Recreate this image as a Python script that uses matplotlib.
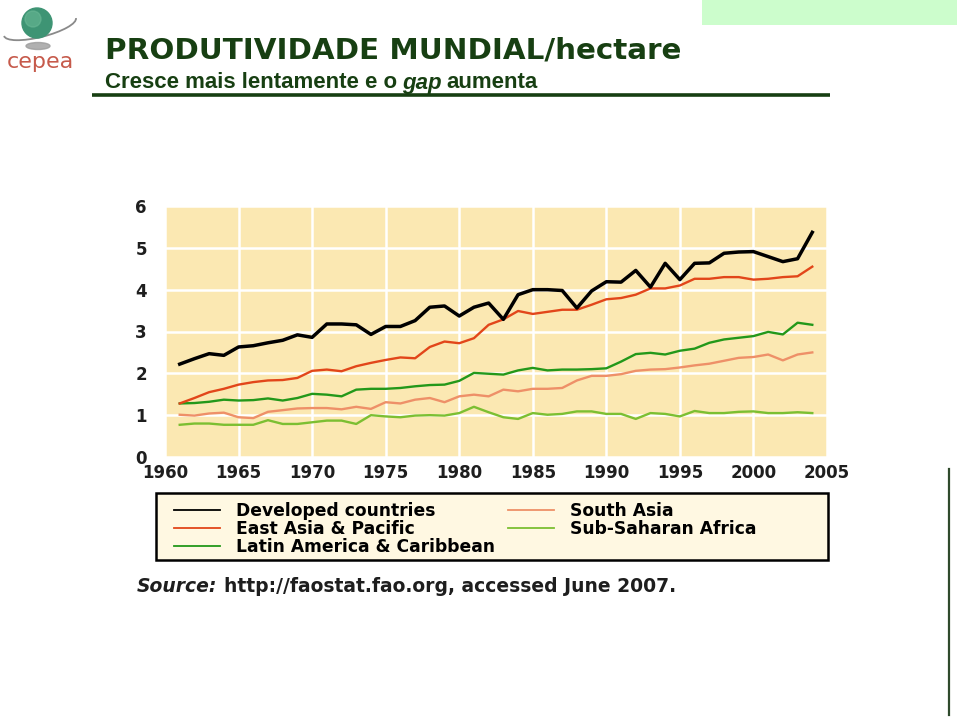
#!/usr/bin/env python3
# -*- coding: utf-8 -*-
"""
Produtividade mundial por hectare (FAOSTAT) - recriação do slide CEPEA
"""

import matplotlib
matplotlib.use('Agg')
import matplotlib.pyplot as plt
from matplotlib.patches import Circle, Ellipse, Arc, Rectangle
from matplotlib.lines import Line2D

# dados (t/ha), 1961-2004
years = list(range(1961, 2005))

developed = [2.22, 2.35, 2.47, 2.43, 2.63, 2.66, 2.73, 2.79, 2.92, 2.86,
             3.18, 3.18, 3.16, 2.93, 3.12, 3.12, 3.26, 3.58, 3.61, 3.37,
             3.58, 3.68, 3.29, 3.88, 4.00, 4.00, 3.98, 3.56, 3.97, 4.19,
             4.18, 4.46, 4.06, 4.63, 4.24, 4.63, 4.64, 4.87, 4.90, 4.91,
             4.79, 4.67, 4.74, 5.37]
east_asia = [1.28, 1.41, 1.55, 1.63, 1.73, 1.79, 1.83, 1.84, 1.89, 2.06,
             2.09, 2.05, 2.17, 2.25, 2.32, 2.38, 2.36, 2.63, 2.76, 2.72,
             2.84, 3.16, 3.29, 3.49, 3.42, 3.47, 3.52, 3.52, 3.64, 3.77,
             3.80, 3.88, 4.03, 4.03, 4.10, 4.26, 4.26, 4.30, 4.30, 4.24,
             4.26, 4.30, 4.32, 4.55]
latin_america = [1.28, 1.29, 1.32, 1.37, 1.35, 1.36, 1.40, 1.35, 1.41, 1.51,
                 1.49, 1.45, 1.61, 1.63, 1.63, 1.65, 1.69, 1.72, 1.73, 1.82,
                 2.01, 1.99, 1.97, 2.07, 2.13, 2.07, 2.09, 2.09, 2.10, 2.12,
                 2.28, 2.46, 2.49, 2.45, 2.54, 2.59, 2.73, 2.81, 2.85, 2.89,
                 2.99, 2.93, 3.21, 3.16]
south_asia = [1.01, 0.99, 1.04, 1.06, 0.95, 0.93, 1.08, 1.12, 1.16, 1.17,
              1.17, 1.14, 1.20, 1.15, 1.31, 1.28, 1.37, 1.41, 1.31, 1.45,
              1.49, 1.45, 1.61, 1.57, 1.63, 1.63, 1.65, 1.83, 1.94, 1.94,
              1.98, 2.06, 2.09, 2.10, 2.14, 2.19, 2.23, 2.30, 2.37, 2.39,
              2.45, 2.31, 2.45, 2.50]
sub_saharan = [0.77, 0.80, 0.80, 0.77, 0.77, 0.77, 0.88, 0.79, 0.79, 0.83,
               0.87, 0.87, 0.79, 1.00, 0.97, 0.95, 0.99, 1.00, 0.99, 1.05,
               1.20, 1.07, 0.95, 0.91, 1.05, 1.01, 1.03, 1.09, 1.09, 1.03,
               1.03, 0.91, 1.05, 1.03, 0.97, 1.10, 1.05, 1.05, 1.08, 1.09,
               1.05, 1.05, 1.07, 1.05]

labels = ['Developed countries', 'East Asia & Pacific',
          'Latin America & Caribbean', 'South Asia', 'Sub-Saharan Africa']
colors = ['#000000', '#E2461A', '#23981A', '#EE9068', '#7CBF32']
widths = [2.5, 1.7, 1.7, 1.7, 1.7]

x_ticks = list(range(1960, 2006, 5))
y_ticks = list(range(0, 7))

title = 'PRODUTIVIDADE MUNDIAL/hectare'
subtitle = ['Cresce mais lentamente e o', 'gap', 'aumenta']
source = ['Source:', 'http://faostat.fao.org, accessed June 2007.']

W, H = 960, 717
GREEN = '#173F12'


def px(x0, y0, x1, y1):
    """caixa em pixels (topo-esquerda) -> fração da figura"""
    return [x0 / W, (H - y1) / H, (x1 - x0) / W, (y1 - y0) / H]


def draw_header(deco):
    """logo, título e subtítulo"""
    # logo CEPEA (aproximado)
    deco.add_patch(Ellipse((38, 46), 24, 7, color='#9c9c9c', alpha=0.8))
    deco.add_patch(Arc((40, 27), 74, 20, angle=-14, theta1=0, theta2=180,
                       color='#8a8a8a', lw=1.3))
    deco.add_patch(Circle((37, 23), 15, color='#3E9474'))
    deco.add_patch(Circle((33, 19), 8, color='#6DBB98', alpha=0.55))
    deco.text(40, 62, 'cepea', color='#C65A4B', fontsize=16,
              ha='center', va='center', family='DejaVu Sans')

    # caixa verde no canto superior direito
    deco.add_patch(Rectangle((702, 0), 255, 25, color='#CCFDCC', lw=0))

    deco.text(105, 58.5, title, color=GREEN, fontsize=21.2, weight='bold',
              family='DejaVu Sans', va='baseline', ha='left')

    t1 = deco.text(105, 88.5, subtitle[0], color=GREEN, fontsize=16,
                   weight='bold', family='Liberation Sans', va='baseline')
    t2 = deco.annotate(subtitle[1], xy=(1, 0), xycoords=t1,
                       xytext=(3.6, 0), textcoords='offset points',
                       color=GREEN, fontsize=16, weight='bold',
                       style='italic', family='Liberation Sans', va='bottom')
    deco.annotate(subtitle[2], xy=(1, 0), xycoords=t2,
                  xytext=(3.6, 0), textcoords='offset points',
                  color=GREEN, fontsize=16, weight='bold',
                  family='Liberation Sans', va='bottom')

    # linha sob o subtítulo e linha vertical à direita
    deco.plot([92, 830], [95, 95], color=GREEN, lw=2.6,
              solid_capstyle='butt')
    deco.plot([948.5, 948.5], [469, 715], color='#2F4A2C', lw=1.6)

    # moldura da legenda
    deco.add_patch(Rectangle((156, 493), 672, 67, facecolor='#FFF8E2',
                             edgecolor='black', lw=1.8))


def draw_chart(fig):
    """gráfico de linhas com legenda"""
    ax = fig.add_axes(px(165, 206, 827, 457))
    ax.set_facecolor('#FBE8B2')

    series = [developed, east_asia, latin_america, south_asia, sub_saharan]
    for i in [4, 3, 2, 1, 0]:
        ax.plot(years, series[i], color=colors[i], lw=widths[i],
                label=labels[i], zorder=3 + (4 - i) * 0.1)

    ax.set_xlim(1960, 2005)
    ax.set_ylim(0, 6)
    ax.set_xticks(x_ticks)
    ax.set_yticks(y_ticks)
    ax.grid(True, color='white', lw=1.8)
    ax.set_axisbelow(True)
    for s in ax.spines.values():
        s.set_visible(False)
    ax.tick_params(length=0, labelsize=12, labelcolor='#1e1e1e')
    ax.tick_params(axis='y', pad=13)
    ax.tick_params(axis='x', pad=5)
    for lab in ax.get_xticklabels() + ax.get_yticklabels():
        lab.set_fontweight('bold')

    handles = [Line2D([], [], color=c, lw=1.3) for c in colors]
    fig.legend(handles, labels, ncol=2, loc='upper left',
               bbox_to_anchor=(166 / W, (H - 494) / H),
               borderaxespad=0, prop={'weight': 'bold', 'size': 12.3},
               handlelength=2.7, handletextpad=0.95, labelspacing=0.0,
               columnspacing=0.75, borderpad=0.45, frameon=False)
    return ax


def draw_source(deco):
    """nota de fonte"""
    t = deco.text(137, 586, source[0], fontsize=13.5, style='italic',
                  weight='bold', color='#1e1e1e', va='center')
    deco.annotate(source[1], xy=(1, 0), xycoords=t, xytext=(5, 0),
                  textcoords='offset points', fontsize=13.5, weight='bold',
                  color='#1e1e1e', va='bottom')


def main():
    plt.rcParams['font.family'] = ['DejaVu Sans']
    fig = plt.figure(figsize=(W / 100, H / 100), dpi=100)
    fig.patch.set_facecolor('white')

    # eixo de decoração em coordenadas de pixel
    deco = fig.add_axes([0, 0, 1, 1])
    deco.set_xlim(0, W)
    deco.set_ylim(H, 0)
    deco.axis('off')

    draw_header(deco)
    draw_chart(fig)
    draw_source(deco)

    fig.savefig('out.png', dpi=100)
    plt.close(fig)


if __name__ == '__main__':
    main()
